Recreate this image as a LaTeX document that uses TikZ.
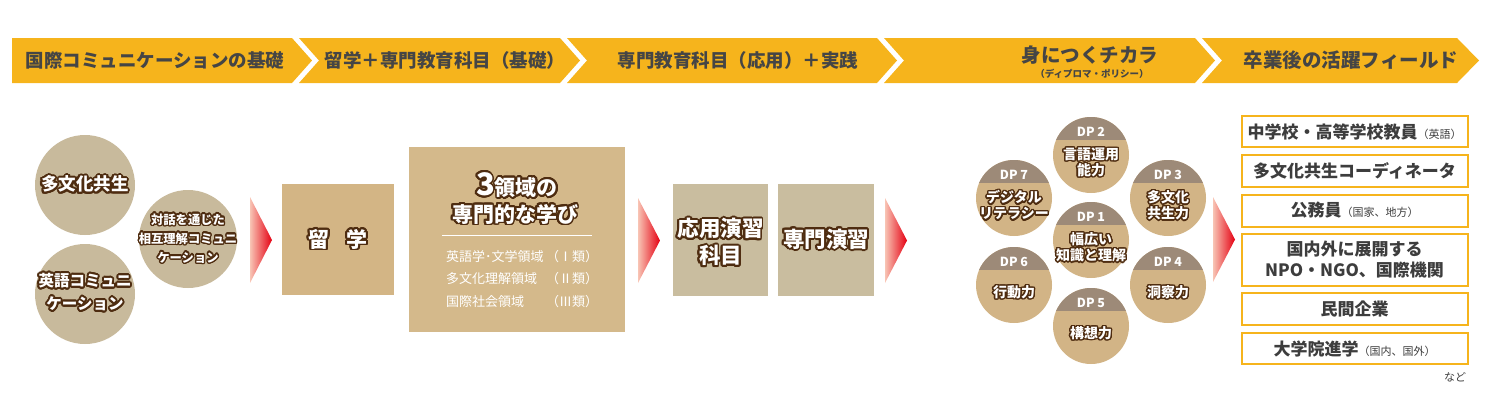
\documentclass[tikz,border=0pt]{standalone}
\usepackage{fontspec}
\setmainfont{Noto Sans CJK JP}
\newfontfamily\blackfont{Noto Sans CJK JP Black}
\usepackage{contour}
\contourlength{1.8bp}
\contournumber{24}
\definecolor{hdr}{HTML}{F6B41C}
\definecolor{hdrtxt}{HTML}{454545}
\definecolor{lcirc}{HTML}{C8BA9C}
\definecolor{ryu}{HTML}{D3B585}
\definecolor{ryoiki}{HTML}{D4B98B}
\definecolor{ensh}{HTML}{C9BD9F}
\definecolor{dpbody}{HTML}{D2B486}
\definecolor{dpcapc}{HTML}{9D8A78}
\definecolor{olc}{HTML}{4E2C10}
\definecolor{boxtxt}{HTML}{3D3D3D}
\definecolor{arrl}{HTML}{F8C4B4}
\definecolor{arrm}{HTML}{EC3A30}
\definecolor{arrr}{HTML}{E50012}
\newcommand\olt[1]{\contour{olc}{#1}}
\newcommand\smallpar[1]{{\mdseries\fontsize{11bp}{13bp}\selectfont #1}}
\newcommand\dpcircle[5]{%
  \node[dpnode] (#1) at (#2,#3) {};
  \begin{scope}
    \clip (#1.center) circle[radius=38];
    \fill[dpcapc] ({#2-40},{#3-40}) rectangle ({#2+40},{#3-15});
  \end{scope}
  \node[dplabel] (#1l) at (#2,{#3-23}) {#4};
  \node[dptext] (#1t) at (#2,{#3+8}) {#5};
}
\newcommand\redarrow[3]{%
  \shade[left color=arrl, middle color=arrm, right color=arrr] (#1,{#2}) -- ({#1+22},{(#2+#3)/2}) -- (#1,#3) -- cycle;
}
\begin{document}
\begin{tikzpicture}[x=1bp,y=-1bp,
  hdrtext/.style={text=hdrtxt, font=\blackfont\fontsize{18.5bp}{22bp}\selectfont, inner sep=0},
  lcnode/.style={circle, fill=lcirc, minimum size=100bp, inner sep=0},
  otext/.style={text=white, align=center, inner sep=0},
  sqbox/.style={fill=#1, inner sep=0, minimum width=111bp, minimum height=111bp},
  dpnode/.style={circle, fill=dpbody, minimum size=76bp, inner sep=0},
  dplabel/.style={text=white, font=\bfseries\fontsize{12.5bp}{14bp}\selectfont, inner sep=0},
  dptext/.style={text=white, align=center, inner sep=0, font=\blackfont\fontsize{14bp}{16bp}\selectfont\contourlength{1.4bp}},
  rbox/.style={draw=hdr, line width=2bp, fill=white, minimum width=226bp, minimum height=31bp, inner sep=0, text=boxtxt, align=center, font=\bfseries\fontsize{17bp}{21bp}\selectfont},
  listtext/.style={text=white, font=\fontsize{13bp}{16bp}\selectfont, text width=152bp, align=left, inner sep=0, anchor=west}
]
\useasboundingbox (0,0) rectangle (1500,407);

% header chevrons
\fill[hdr] (12,38) -- (292,38) -- (312,60.5) -- (292,83) -- (12,83) -- cycle;
\fill[hdr] (299,38) -- (560,38) -- (580,60.5) -- (560,83) -- (299,83) -- (319,60.5) -- cycle;
\fill[hdr] (567,38) -- (877,38) -- (897,60.5) -- (877,83) -- (567,83) -- (587,60.5) -- cycle;
\fill[hdr] (884,38) -- (1195,38) -- (1215,60.5) -- (1195,83) -- (884,83) -- (904,60.5) -- cycle;
\fill[hdr] (1202,38) -- (1457,38) -- (1479,60.5) -- (1457,83) -- (1202,83) -- (1222,60.5) -- cycle;

\node[hdrtext] (h1) at (155,60) {国際コミュニケーションの基礎};
\node[hdrtext] (h2) at (445,60) {留学＋専門教育科目（基礎）};
\node[hdrtext] (h3) at (738,60) {専門教育科目（応用）＋実践};
\node[hdrtext, font=\blackfont\fontsize{19.5bp}{22bp}\selectfont] (h4) at (1090,55) {身につくチカラ};
\node[hdrtext, font=\bfseries\fontsize{9.5bp}{11bp}\selectfont] (h4s) at (1092,74) {（ディプロマ・ポリシー）};
\node[hdrtext, font=\blackfont\fontsize{19.5bp}{22bp}\selectfont] (h5) at (1351,60) {卒業後の活躍フィールド};

% left circles
\node[lcnode] (c1) at (85,185) {};
\node[otext, font=\blackfont\fontsize{17.5bp}{21bp}\selectfont] (c1t) at (c1) {\olt{多文化共生}};
\node[lcnode] (c2) at (85,294) {};
\node[otext, font=\blackfont\fontsize{15.5bp}{23bp}\selectfont] (c2t) at (85,293) {\olt{英語コミュニ}\\\olt{ケーション}};
\node[lcnode, minimum size=98bp] (c3) at (188,239) {};
\node[otext, font=\blackfont\fontsize{12.3bp}{19bp}\selectfont\contourlength{1.3bp}] (c3t) at (188,239) {\olt{対話を通じた}\\\olt{相互理解コミュニ}\\\olt{ケーション}};

% red arrows
\redarrow{250}{197}{283}
\redarrow{638}{198}{283}
\redarrow{885}{198}{283}
\redarrow{1213}{197}{282}

% study abroad
\node[sqbox=ryu, minimum width=112bp] (ryugaku) at (338,239.5) {};
\node[otext, font=\blackfont\fontsize{21bp}{24bp}\selectfont] (ryugakut) at (338,240) {\olt{留}\hspace{17bp}\olt{学}};

% three domains
\node[fill=ryoiki, inner sep=0, minimum width=216bp, minimum height=185bp] (ryoiki) at (517,239.5) {};
\node[otext, font=\blackfont\fontsize{21bp}{24bp}\selectfont] (r1) at (517,186) {\olt{{\fontsize{31bp}{31bp}\selectfont 3}領域の}};
\node[otext, font=\blackfont\fontsize{21bp}{24bp}\selectfont] (r2) at (515,215) {\olt{専門的な学び}};
\coordinate (rl1) at (442,235);
\coordinate (rl2) at (592,235);
\draw[white, line width=0.8bp] (rl1) -- (rl2);
\node[listtext] (l1) at (446,257) {英語学･文学領域\hfill（Ⅰ類）};
\node[listtext] (l2) at (446,279) {多文化理解領域\hfill（Ⅱ類）};
\node[listtext] (l3) at (446,302) {国際社会領域\hfill（Ⅲ類）};

% practice boxes
\node[sqbox=ensh, minimum width=95bp, minimum height=112bp] (oyo) at (720.5,240) {};
\node[otext, font=\blackfont\fontsize{21.5bp}{27bp}\selectfont] (oyot) at (720.5,243) {\olt{応用演習}\\\olt{科目}};
\node[sqbox=ensh, minimum width=96bp, minimum height=112bp] (senmon) at (826,240) {};
\node[otext, font=\blackfont\fontsize{21.5bp}{25bp}\selectfont] (senmont) at (826,240) {\olt{専門演習}};

% DP circles
\dpcircle{dp2}{1091}{155}{DP 2}{\olt{言語運用}\\\olt{能力}}
\dpcircle{dp7}{1014}{198}{DP 7}{\olt{デジタル}\\\olt{リテラシー}}
\dpcircle{dp3}{1168}{198}{DP 3}{\olt{多文化}\\\olt{共生力}}
\dpcircle{dp1}{1091}{240}{DP 1}{\olt{幅広い}\\\olt{知識と理解}}
\dpcircle{dp6}{1014}{285}{DP 6}{\olt{行動力}}
\dpcircle{dp4}{1168}{285}{DP 4}{\olt{洞察力}}
\dpcircle{dp5}{1091}{326}{DP 5}{\olt{構想力}}

% career boxes
\node[rbox] (b1) at (1354.5,131.5) {中学校・高等学校教員\smallpar{（英語）}};
\node[rbox, minimum height=32bp] (b2) at (1354.5,171) {多文化共生コーディネータ};
\node[rbox, minimum height=32bp] (b3) at (1354.5,210.5) {公務員\smallpar{（国家、地方）}};
\node[rbox, minimum height=52bp] (b4) at (1354.5,260) {国内外に展開する\\NPO・NGO、国際機関};
\node[rbox, minimum height=32bp] (b5) at (1354.5,309) {民間企業};
\node[rbox] (b6) at (1354.5,348.5) {大学院進学\smallpar{（国内、国外）}};
\node[text=boxtxt, font=\fontsize{11bp}{13bp}\selectfont, inner sep=0] (nado) at (1455,377) {など};
\end{tikzpicture}
\end{document}
